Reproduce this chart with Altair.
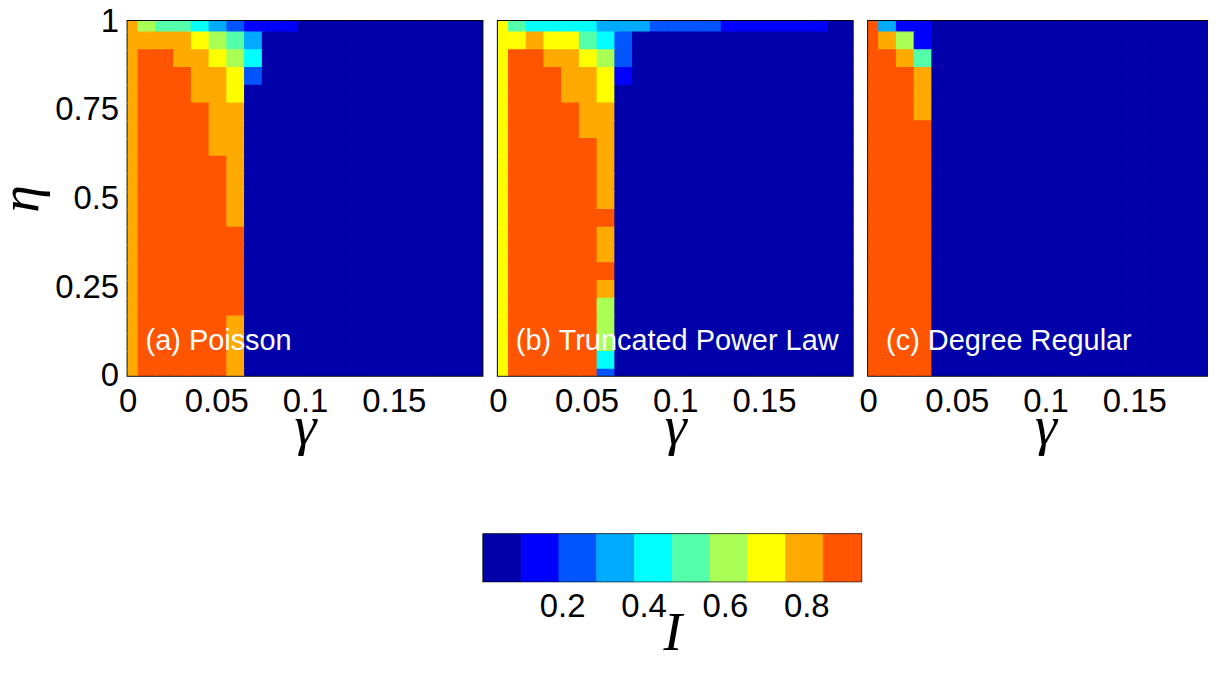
import altair as alt
import pandas as pd

# ---------------- data ----------------
gamma = [0.00, 0.01, 0.02, 0.03, 0.04, 0.05, 0.06, 0.07, 0.08, 0.09, 0.10,
         0.11, 0.12, 0.13, 0.14, 0.15, 0.16, 0.17, 0.18, 0.19, 0.20]
eta = [1.00, 0.95, 0.90, 0.85, 0.80, 0.75, 0.70, 0.65, 0.60, 0.55, 0.50,
       0.45, 0.40, 0.35, 0.30, 0.25, 0.20, 0.15, 0.10, 0.05, 0.00]

# rows: eta = 1.00 (top) ... 0.00 (bottom); columns: gamma = 0.00 ... 0.20
poisson = [
    [.80, .61, .52, .52, .42, .33, .24, .15, .15, .15, .01, .01, .01, .01, .01, .01, .01, .01, .01, .01, .01],
    [.80, .80, .80, .80, .70, .61, .52, .33, .01, .01, .01, .01, .01, .01, .01, .01, .01, .01, .01, .01, .01],
    [.80, .89, .89, .80, .80, .70, .61, .42, .01, .01, .01, .01, .01, .01, .01, .01, .01, .01, .01, .01, .01],
    [.80, .89, .89, .89, .80, .80, .70, .24, .01, .01, .01, .01, .01, .01, .01, .01, .01, .01, .01, .01, .01],
    [.80, .89, .89, .89, .80, .80, .70, .01, .01, .01, .01, .01, .01, .01, .01, .01, .01, .01, .01, .01, .01],
    [.80, .89, .89, .89, .89, .80, .80, .01, .01, .01, .01, .01, .01, .01, .01, .01, .01, .01, .01, .01, .01],
    [.80, .89, .89, .89, .89, .80, .80, .01, .01, .01, .01, .01, .01, .01, .01, .01, .01, .01, .01, .01, .01],
    [.80, .89, .89, .89, .89, .80, .80, .01, .01, .01, .01, .01, .01, .01, .01, .01, .01, .01, .01, .01, .01],
    [.80, .89, .89, .89, .89, .89, .80, .01, .01, .01, .01, .01, .01, .01, .01, .01, .01, .01, .01, .01, .01],
    [.80, .89, .89, .89, .89, .89, .80, .01, .01, .01, .01, .01, .01, .01, .01, .01, .01, .01, .01, .01, .01],
    [.80, .89, .89, .89, .89, .89, .80, .01, .01, .01, .01, .01, .01, .01, .01, .01, .01, .01, .01, .01, .01],
    [.80, .89, .89, .89, .89, .89, .80, .01, .01, .01, .01, .01, .01, .01, .01, .01, .01, .01, .01, .01, .01],
    [.80, .89, .89, .89, .89, .89, .89, .01, .01, .01, .01, .01, .01, .01, .01, .01, .01, .01, .01, .01, .01],
    [.80, .89, .89, .89, .89, .89, .89, .01, .01, .01, .01, .01, .01, .01, .01, .01, .01, .01, .01, .01, .01],
    [.80, .89, .89, .89, .89, .89, .89, .01, .01, .01, .01, .01, .01, .01, .01, .01, .01, .01, .01, .01, .01],
    [.80, .89, .89, .89, .89, .89, .89, .01, .01, .01, .01, .01, .01, .01, .01, .01, .01, .01, .01, .01, .01],
    [.80, .89, .89, .89, .89, .89, .89, .01, .01, .01, .01, .01, .01, .01, .01, .01, .01, .01, .01, .01, .01],
    [.80, .89, .89, .89, .89, .89, .80, .01, .01, .01, .01, .01, .01, .01, .01, .01, .01, .01, .01, .01, .01],
    [.80, .89, .89, .89, .89, .89, .80, .01, .01, .01, .01, .01, .01, .01, .01, .01, .01, .01, .01, .01, .01],
    [.80, .89, .89, .89, .89, .89, .80, .01, .01, .01, .01, .01, .01, .01, .01, .01, .01, .01, .01, .01, .01],
    [.80, .89, .89, .89, .89, .89, .80, .01, .01, .01, .01, .01, .01, .01, .01, .01, .01, .01, .01, .01, .01],
]

truncated_power_law = [
    [.70, .52, .42, .42, .42, .42, .33, .33, .33, .24, .24, .24, .24, .15, .15, .15, .15, .15, .15, .01, .01],
    [.70, .70, .80, .70, .70, .52, .42, .24, .01, .01, .01, .01, .01, .01, .01, .01, .01, .01, .01, .01, .01],
    [.70, .89, .89, .80, .80, .70, .61, .24, .01, .01, .01, .01, .01, .01, .01, .01, .01, .01, .01, .01, .01],
    [.70, .89, .89, .89, .80, .80, .70, .15, .01, .01, .01, .01, .01, .01, .01, .01, .01, .01, .01, .01, .01],
    [.70, .89, .89, .89, .80, .80, .70, .01, .01, .01, .01, .01, .01, .01, .01, .01, .01, .01, .01, .01, .01],
    [.70, .89, .89, .89, .89, .80, .80, .01, .01, .01, .01, .01, .01, .01, .01, .01, .01, .01, .01, .01, .01],
    [.70, .89, .89, .89, .89, .80, .80, .01, .01, .01, .01, .01, .01, .01, .01, .01, .01, .01, .01, .01, .01],
    [.70, .89, .89, .89, .89, .89, .80, .01, .01, .01, .01, .01, .01, .01, .01, .01, .01, .01, .01, .01, .01],
    [.70, .89, .89, .89, .89, .89, .80, .01, .01, .01, .01, .01, .01, .01, .01, .01, .01, .01, .01, .01, .01],
    [.70, .89, .89, .89, .89, .89, .80, .01, .01, .01, .01, .01, .01, .01, .01, .01, .01, .01, .01, .01, .01],
    [.70, .89, .89, .89, .89, .89, .80, .01, .01, .01, .01, .01, .01, .01, .01, .01, .01, .01, .01, .01, .01],
    [.70, .89, .89, .89, .89, .89, .89, .01, .01, .01, .01, .01, .01, .01, .01, .01, .01, .01, .01, .01, .01],
    [.70, .89, .89, .89, .89, .89, .80, .01, .01, .01, .01, .01, .01, .01, .01, .01, .01, .01, .01, .01, .01],
    [.70, .89, .89, .89, .89, .89, .80, .01, .01, .01, .01, .01, .01, .01, .01, .01, .01, .01, .01, .01, .01],
    [.70, .89, .89, .89, .89, .89, .89, .01, .01, .01, .01, .01, .01, .01, .01, .01, .01, .01, .01, .01, .01],
    [.70, .89, .89, .89, .89, .89, .80, .01, .01, .01, .01, .01, .01, .01, .01, .01, .01, .01, .01, .01, .01],
    [.70, .89, .89, .89, .89, .89, .61, .01, .01, .01, .01, .01, .01, .01, .01, .01, .01, .01, .01, .01, .01],
    [.70, .89, .89, .89, .89, .89, .61, .01, .01, .01, .01, .01, .01, .01, .01, .01, .01, .01, .01, .01, .01],
    [.70, .89, .89, .89, .89, .89, .61, .01, .01, .01, .01, .01, .01, .01, .01, .01, .01, .01, .01, .01, .01],
    [.70, .89, .89, .89, .89, .89, .42, .01, .01, .01, .01, .01, .01, .01, .01, .01, .01, .01, .01, .01, .01],
    [.70, .89, .89, .89, .89, .89, .24, .01, .01, .01, .01, .01, .01, .01, .01, .01, .01, .01, .01, .01, .01],
]

degree_regular = [
    [.89, .33, .15, .15, .01, .01, .01, .01, .01, .01, .01, .01, .01, .01, .01, .01, .01, .01, .01, .01, .01],
    [.89, .80, .61, .15, .01, .01, .01, .01, .01, .01, .01, .01, .01, .01, .01, .01, .01, .01, .01, .01, .01],
    [.89, .89, .80, .52, .01, .01, .01, .01, .01, .01, .01, .01, .01, .01, .01, .01, .01, .01, .01, .01, .01],
    [.89, .89, .89, .80, .01, .01, .01, .01, .01, .01, .01, .01, .01, .01, .01, .01, .01, .01, .01, .01, .01],
    [.89, .89, .89, .80, .01, .01, .01, .01, .01, .01, .01, .01, .01, .01, .01, .01, .01, .01, .01, .01, .01],
    [.89, .89, .89, .80, .01, .01, .01, .01, .01, .01, .01, .01, .01, .01, .01, .01, .01, .01, .01, .01, .01],
    [.89, .89, .89, .89, .01, .01, .01, .01, .01, .01, .01, .01, .01, .01, .01, .01, .01, .01, .01, .01, .01],
    [.89, .89, .89, .89, .01, .01, .01, .01, .01, .01, .01, .01, .01, .01, .01, .01, .01, .01, .01, .01, .01],
    [.89, .89, .89, .89, .01, .01, .01, .01, .01, .01, .01, .01, .01, .01, .01, .01, .01, .01, .01, .01, .01],
    [.89, .89, .89, .89, .01, .01, .01, .01, .01, .01, .01, .01, .01, .01, .01, .01, .01, .01, .01, .01, .01],
    [.89, .89, .89, .89, .01, .01, .01, .01, .01, .01, .01, .01, .01, .01, .01, .01, .01, .01, .01, .01, .01],
    [.89, .89, .89, .89, .01, .01, .01, .01, .01, .01, .01, .01, .01, .01, .01, .01, .01, .01, .01, .01, .01],
    [.89, .89, .89, .89, .01, .01, .01, .01, .01, .01, .01, .01, .01, .01, .01, .01, .01, .01, .01, .01, .01],
    [.89, .89, .89, .89, .01, .01, .01, .01, .01, .01, .01, .01, .01, .01, .01, .01, .01, .01, .01, .01, .01],
    [.89, .89, .89, .89, .01, .01, .01, .01, .01, .01, .01, .01, .01, .01, .01, .01, .01, .01, .01, .01, .01],
    [.89, .89, .89, .89, .01, .01, .01, .01, .01, .01, .01, .01, .01, .01, .01, .01, .01, .01, .01, .01, .01],
    [.89, .89, .89, .89, .01, .01, .01, .01, .01, .01, .01, .01, .01, .01, .01, .01, .01, .01, .01, .01, .01],
    [.89, .89, .89, .89, .01, .01, .01, .01, .01, .01, .01, .01, .01, .01, .01, .01, .01, .01, .01, .01, .01],
    [.89, .89, .89, .89, .01, .01, .01, .01, .01, .01, .01, .01, .01, .01, .01, .01, .01, .01, .01, .01, .01],
    [.89, .89, .89, .89, .01, .01, .01, .01, .01, .01, .01, .01, .01, .01, .01, .01, .01, .01, .01, .01, .01],
    [.89, .89, .89, .89, .01, .01, .01, .01, .01, .01, .01, .01, .01, .01, .01, .01, .01, .01, .01, .01, .01],
]

panel_names = ["Poisson", "Truncated Power Law", "Degree Regular"]
panel_labels = ["(a) Poisson", "(b) Truncated Power Law", "(c) Degree Regular"]
panel_grids = [poisson, truncated_power_law, degree_regular]

x_ticks = [0, 0.05, 0.1, 0.15]
y_ticks = [0, 0.25, 0.5, 0.75, 1]
cbar_ticks = [0.2, 0.4, 0.6, 0.8]
cbar_limits = [0.0065, 0.935]   # colour axis limits

jet10 = ["#0000AA", "#0000FF", "#0055FF", "#00AAFF", "#00FFFF",
         "#55FFAA", "#AAFF55", "#FFFF00", "#FFAA00", "#FF5500"]

# ---------------- scales ----------------
lo, hi = cbar_limits
edges = [lo + (hi - lo) * k / 10 for k in range(11)]
color_scale = alt.Scale(type="threshold", domain=edges[1:10], range=jet10)

# ---------------- tables ----------------
recs = []
for name, grid in zip(panel_names, panel_grids):
    for i, e in enumerate(eta):
        for j, g in enumerate(gamma):
            recs.append({"panel": name, "gamma": g, "eta": e, "I": grid[i][j]})
df = pd.DataFrame(recs)

cb = pd.DataFrame({"lo": edges[:-1], "hi": edges[1:]})
cb["mid"] = (cb["lo"] + cb["hi"]) / 2

W = 356            # panel size
LABEL_FONT = "Liberation Sans"
TITLE_FONT = "Liberation Serif"
FMT = ".2~f"


def panel(name, label, first):
    if first:
        yaxis = alt.Axis(values=y_ticks, format=FMT, title="η", titlePadding=5,
                         labelPadding=9)
    else:
        yaxis = None
    d = df[df["panel"] == name].copy()
    # image cells (drawn slightly offset, as in the reference), clipped to the axes
    d["x0"] = (d["gamma"] - 0.004).clip(0, 0.2)
    d["x1"] = (d["gamma"] + 0.006).clip(0, 0.2)
    d["y0"] = (d["eta"] - 0.0315).clip(0, 1)
    d["y1"] = (d["eta"] + 0.0185).clip(0, 1)
    rect = alt.Chart(d).mark_rect(clip=True, strokeWidth=1.2).encode(
        x=alt.X("x0:Q", scale=alt.Scale(domain=[0, 0.2], nice=False, zero=False),
                axis=alt.Axis(values=x_ticks, format=FMT, title="γ",
                              labelPadding=10, titlePadding=25,
                              titleBaseline="alphabetic")),
        x2="x1:Q",
        y=alt.Y("y0:Q", scale=alt.Scale(domain=[0, 1], nice=False, zero=False), axis=yaxis),
        y2="y1:Q",
        color=alt.Color("I:Q", scale=color_scale, legend=None),
        stroke=alt.Stroke("I:Q", scale=color_scale, legend=None),
    )
    txt = alt.Chart(pd.DataFrame({"t": [label]})).mark_text(
        align="left", baseline="alphabetic", color="white",
        font=LABEL_FONT, fontSize=29,
    ).encode(x=alt.value(18), y=alt.value(330), text="t:N")
    return alt.layer(rect, txt).properties(width=W, height=W)


panels = [panel(n, l, k == 0) for k, (n, l) in enumerate(zip(panel_names, panel_labels))]
top = alt.hconcat(*panels, spacing=3.5)

spacer = alt.Chart(pd.DataFrame({"v": [0]})).mark_rect(opacity=0).encode(
    x=alt.value(0), x2=alt.value(10), y=alt.value(0), y2=alt.value(10)
).properties(width=354, height=47, view=alt.ViewBackground(stroke="transparent"))

colorbar = alt.Chart(cb).mark_rect(strokeWidth=0.8).encode(
    x=alt.X("lo:Q", scale=alt.Scale(domain=cbar_limits, nice=False, zero=False),
            axis=alt.Axis(values=cbar_ticks, format=FMT, title="I",
                          labelPadding=9, titlePadding=27, titleBaseline="alphabetic")),
    x2="hi:Q",
    color=alt.Color("mid:Q", scale=color_scale, legend=None),
    stroke=alt.Stroke("mid:Q", scale=color_scale, legend=None),
).properties(width=379, height=47)

bottom = alt.hconcat(spacer, colorbar, spacing=0)

# the right-hand panel runs off the right edge of the page, as in the reference
chart = alt.vconcat(top, bottom, spacing=77).properties(
    padding={"left": -17, "top": -5, "right": -16, "bottom": -4},
    background="white",
).configure_view(stroke="black", strokeWidth=2).configure_axis(
    domain=False, ticks=False, tickSize=0, grid=False,
    labelFont=LABEL_FONT, labelFontSize=33, labelColor="black",
    labelFlush=False, labelOverlap=False,
    titleFont=TITLE_FONT, titleFontSize=56, titleFontStyle="italic",
    titleFontWeight="normal", titleColor="black",
)

chart.save("out.html", embed_options={"renderer": "svg", "actions": False})
